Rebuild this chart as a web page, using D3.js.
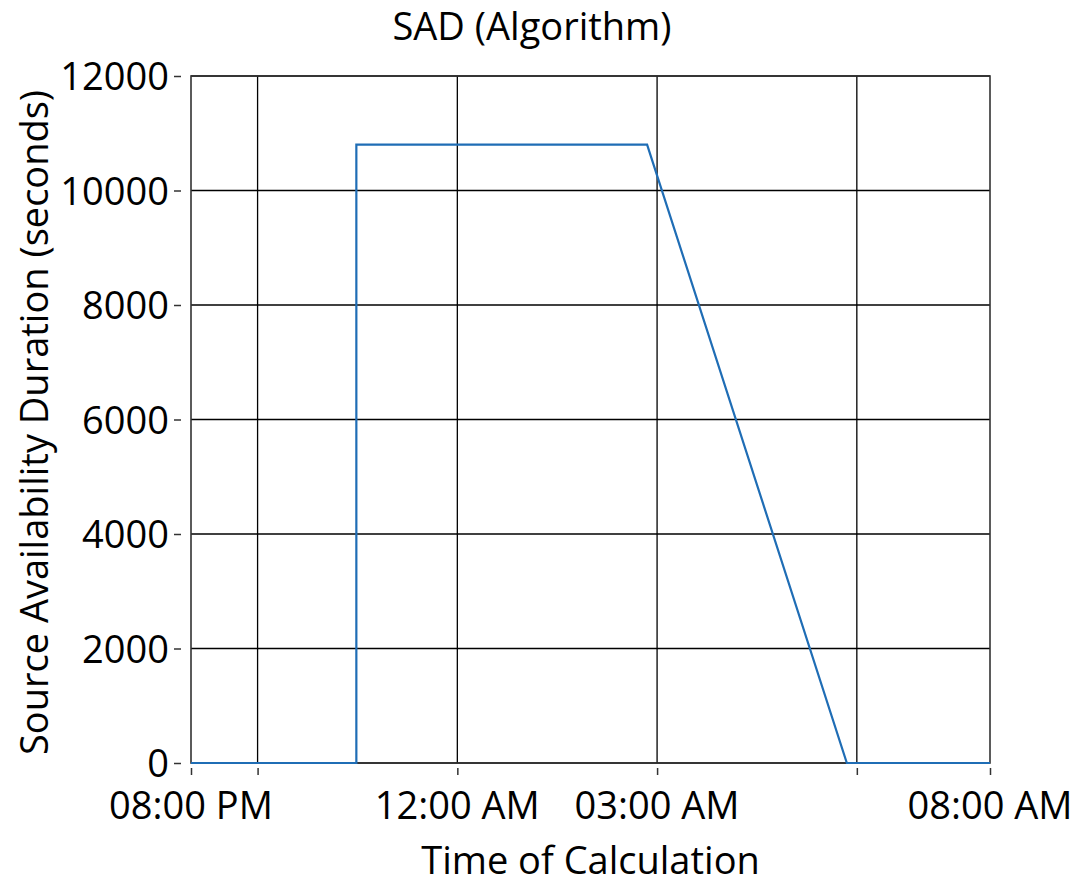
<!DOCTYPE html>
<html>
<head>
<meta charset="utf-8">
<script src="https://cdn.jsdelivr.net/npm/d3@7"></script>
<style>
  body { margin: 0; background: #fff; }
  svg { display: block; }
</style>
</head>
<body>
<div id="chart"></div>
<script>
// data
const times = ["2024-01-01T20:00", "2024-01-01T22:29", "2024-01-01T22:29", "2024-01-02T02:51", "2024-01-02T05:51", "2024-01-02T08:00"];
const sad = [0, 0, 10800, 10800, 0, 0];
const yTicks = [0, 2000, 4000, 6000, 8000, 10000, 12000];
const gridTimes = ["2024-01-01T21:00", "2024-01-02T00:00", "2024-01-02T03:00", "2024-01-02T06:00"];
const labelTimes = ["2024-01-01T20:00", "2024-01-02T00:00", "2024-01-02T03:00", "2024-01-02T08:00"];

const parse = d3.timeParse("%Y-%m-%dT%H:%M");
const data = times.map((t, i) => ({ t: parse(t), v: sad[i] }));

const width = 1078, height = 884;
const margin = { top: 76, right: 88, bottom: 121, left: 191 };
const font = "'Open Sans', 'Noto Sans', sans-serif";
const fs = 38;

const svg = d3.select("#chart")
    .append("svg")
    .attr("width", width)
    .attr("height", height);

const x = d3.scaleTime()
    .domain([parse(times[0]), parse(times[times.length - 1])])
    .range([margin.left, width - margin.right]);

const y = d3.scaleLinear()
    .domain([0, 12000])
    .range([height - margin.bottom, margin.top]);

// grid
svg.append("g")
    .selectAll("line.h")
    .data(yTicks)
    .join("line")
    .attr("x1", margin.left).attr("x2", width - margin.right)
    .attr("y1", d => y(d)).attr("y2", d => y(d))
    .attr("stroke", "#000").attr("stroke-width", 1.3);

svg.append("g")
    .selectAll("line.v")
    .data(gridTimes.map(parse))
    .join("line")
    .attr("x1", d => x(d)).attr("x2", d => x(d))
    .attr("y1", margin.top).attr("y2", height - margin.bottom)
    .attr("stroke", "#000").attr("stroke-width", 1.3);

// frame
svg.append("rect")
    .attr("x", margin.left).attr("y", margin.top)
    .attr("width", width - margin.left - margin.right)
    .attr("height", height - margin.top - margin.bottom)
    .attr("fill", "none")
    .attr("stroke", "#333").attr("stroke-width", 1.6);

// line
const line = d3.line().x(d => x(d.t)).y(d => y(d.v));
svg.append("path")
    .datum(data)
    .attr("d", line)
    .attr("fill", "none")
    .attr("stroke", "#1f6db5")
    .attr("stroke-width", 2.2);

// y axis
const yAxis = svg.append("g")
    .attr("transform", `translate(${margin.left - 10},0)`)
    .call(d3.axisLeft(y).tickValues(yTicks).tickSize(7).tickPadding(5).tickFormat(d3.format("d")));
yAxis.select(".domain").remove();
yAxis.selectAll(".tick line").attr("stroke", "#333").attr("stroke-width", 1.5);
yAxis.selectAll("text").style("font", `${fs}px ${font}`).attr("fill", "#000").attr("dy", "0.36em");

// x axis ticks
const tickTimes = [parse(times[0])].concat(gridTimes.map(parse), [parse(times[times.length - 1])]);
const xAxis = svg.append("g")
    .attr("transform", `translate(0,${height - margin.bottom + 5})`)
    .call(d3.axisBottom(x).tickValues(tickTimes).tickSize(7).tickFormat(""));
xAxis.select(".domain").remove();
xAxis.selectAll(".tick line").attr("stroke", "#333").attr("stroke-width", 1.5);

svg.append("g")
    .selectAll("text")
    .data(labelTimes.map(parse))
    .join("text")
    .attr("x", d => x(d))
    .attr("y", 819)
    .attr("text-anchor", "middle")
    .style("font", `${fs}px ${font}`)
    .text(d3.timeFormat("%I:%M %p"));

// titles
svg.append("text")
    .attr("x", 532)
    .attr("y", 40)
    .attr("text-anchor", "middle")
    .style("font", `${fs}px ${font}`)
    .text("SAD (Algorithm)");

svg.append("text")
    .attr("x", (margin.left + width - margin.right) / 2)
    .attr("y", 874)
    .attr("text-anchor", "middle")
    .style("font", `${fs}px ${font}`)
    .text("Time of Calculation");

svg.append("text")
    .attr("transform", `translate(48,${(margin.top + height - margin.bottom) / 2 + 3}) rotate(-90)`)
    .attr("text-anchor", "middle")
    .style("font", `${fs}px ${font}`)
    .text("Source Availability Duration (seconds)");
</script>
</body>
</html>
